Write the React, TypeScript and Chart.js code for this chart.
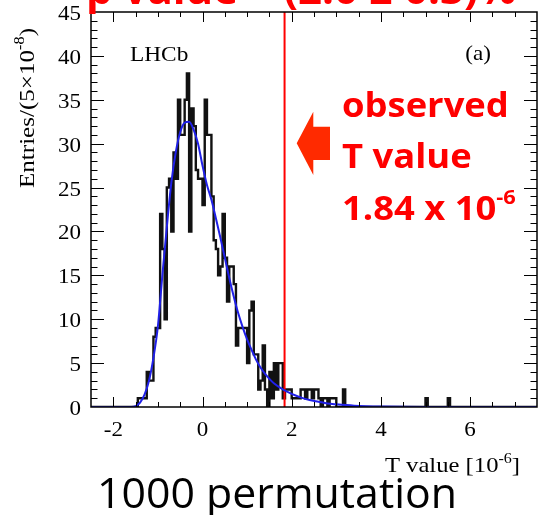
import { useEffect, useRef } from 'react';
import { Chart, registerables } from 'chart.js';

Chart.register(...registerables);

// ---------------- data ----------------
const xMin = -2.5;
const xMax = 7.5;
const yMin = 0;
const yMax = 45;
const binWidth = 0.05; // 5x10^-8 in units of 10^-6
// 200 bins from -2.5 to 7.5, one row per unit of T
const histCounts: number[] = [
  // -2.50 .. -1.55
  0, 0, 0, 0, 0, 0, 0, 0, 0, 0, 0, 0, 0, 0, 0, 0, 0, 0, 0, 0,
  // -1.50 .. -0.55
  0, 1, 1, 1, 1, 4, 3, 3, 8, 9, 9, 22, 18, 10, 25, 26, 20, 29, 26, 35,
  // -0.50 .. 0.45
  31, 31, 35, 38, 20, 34, 32, 27, 26, 26, 23, 35, 31, 31, 24, 19, 18, 15, 16, 22,
  // 0.50 .. 1.45
  17, 12, 16, 16, 14, 7, 9, 9, 9, 9, 5, 11, 12, 6, 6, 2, 3, 7, 2, 0,
  // 1.50 .. 2.45
  4, 1, 5, 2, 5, 5, 1, 2, 2, 2, 1, 1, 1, 1, 2, 2, 1, 2, 2, 1,
  // 2.50 .. 3.45
  2, 2, 1, 0, 1, 1, 0, 1, 1, 1, 0, 0, 0, 2, 0, 0, 0, 0, 0, 0,
  // 3.50 .. 4.45
  0, 0, 0, 0, 0, 0, 0, 0, 0, 0, 0, 0, 0, 0, 0, 0, 0, 0, 0, 0,
  // 4.50 .. 5.45
  0, 0, 0, 0, 0, 0, 0, 0, 0, 0, 1, 0, 0, 0, 0, 0, 0, 0, 0, 0,
  // 5.50 .. 6.45
  1, 0, 0, 0, 0, 0, 0, 0, 0, 0, 0, 0, 0, 0, 0, 0, 0, 0, 0, 0,
  // 6.50 .. 7.45
  0, 0, 0, 0, 0, 0, 0, 0, 0, 0, 0, 0, 0, 0, 0, 0, 0, 0, 0, 0,
];

// fitted curve
const fitX: number[] = [
  -2.5, -1.6, -1.5, -1.4, -1.3, -1.2, -1.1, -1.0, -0.9, -0.8, -0.7, -0.6, -0.5, -0.4, -0.3, -0.2, -0.1,
  0.0, 0.1, 0.2, 0.3, 0.4, 0.5, 0.6, 0.7, 0.8, 0.9, 1.0, 1.1, 1.2, 1.3, 1.4, 1.5, 1.6, 1.8, 2.0, 2.2,
  2.4, 2.6, 2.8, 3.0, 3.4, 4.0, 5.0, 7.5,
];
const fitY: number[] = [
  0, 0, 0.1, 0.5, 1.4, 3, 5.6, 9.2, 15, 20.5, 25.5, 29, 31.3, 32.4, 32.5, 31.6, 30,
  27.5, 25.3, 23.6, 21.5, 19.3, 17, 14.7, 12.6, 10.7, 9.1, 7.7, 6.5, 5.4, 4.5, 3.8, 3.2, 2.7, 2.0, 1.5, 1.1,
  0.8, 0.6, 0.4, 0.3, 0.15, 0.05, 0, 0,
];

const observedT = 1.84;
const xTickValues: number[] = [-2, 0, 2, 4, 6];
const yTickValues: number[] = [0, 5, 10, 15, 20, 25, 30, 35, 40, 45];

// ---------------- helpers ----------------
type Part = { text: string; sup?: boolean };

function drawRich(
  ctx: CanvasRenderingContext2D,
  parts: Part[],
  x: number,
  y: number,
  o: { size: number; family: string; weight?: string; color: string; align?: 'left' | 'right' | 'center'; stretch?: number; rotate?: number; supScale?: number; supRise?: number }
) {
  const weight = o.weight || 'normal';
  const supScale = o.supScale ?? 0.65;
  const supRise = o.supRise ?? 0.42;
  ctx.save();
  ctx.translate(x, y);
  if (o.rotate) ctx.rotate(o.rotate);
  ctx.scale(o.stretch ?? 1, 1);
  ctx.fillStyle = o.color;
  ctx.textBaseline = 'alphabetic';
  ctx.textAlign = 'left';
  let total = 0;
  const m = parts.map((p) => {
    const size = p.sup ? o.size * supScale : o.size;
    ctx.font = `${weight} ${size}px ${o.family}`;
    const w = ctx.measureText(p.text).width;
    total += w;
    return { p, size, w };
  });
  let cx = o.align === 'right' ? -total : o.align === 'center' ? -total / 2 : 0;
  for (const it of m) {
    ctx.font = `${weight} ${it.size}px ${o.family}`;
    ctx.fillText(it.p.text, cx, it.p.sup ? -o.size * supRise : 0);
    cx += it.w;
  }
  ctx.restore();
}

const SERIF = '"Liberation Serif"';
const SANS = '"Open Sans"';

const framePlugin = {
  id: 'rootFrame',
  afterDatasetsDraw(chart: any) {
    const ctx: CanvasRenderingContext2D = chart.ctx;
    const { left, right, top, bottom } = chart.chartArea;
    const xs = chart.scales.x;
    const ys = chart.scales.y;
    ctx.save();
    ctx.strokeStyle = '#000';
    ctx.lineWidth = 1;
    // x ticks every 0.5, major every 2
    for (let v = xMin + 0.5; v < xMax - 1e-9; v += 0.5) {
      const px = Math.round(xs.getPixelForValue(v)) + 0.5;
      const major = Math.abs(v / 2 - Math.round(v / 2)) < 1e-9;
      const len = major ? 10 : 5;
      ctx.beginPath();
      ctx.moveTo(px, bottom);
      ctx.lineTo(px, bottom - len);
      ctx.moveTo(px, top);
      ctx.lineTo(px, top + len);
      ctx.stroke();
    }
    // y ticks every 1, major every 5
    for (let v = yMin + 1; v < yMax; v += 1) {
      const py = Math.round(ys.getPixelForValue(v)) + 0.5;
      const len = v % 5 === 0 ? 13 : 6.5;
      ctx.beginPath();
      ctx.moveTo(left, py);
      ctx.lineTo(left + len, py);
      ctx.moveTo(right, py);
      ctx.lineTo(right - len, py);
      ctx.stroke();
    }
    ctx.lineWidth = 1.5;
    ctx.strokeRect(left, top, right - left, bottom - top);
    ctx.restore();

    // tick labels (Times-like, slightly wide as in the slide)
    for (const v of xTickValues) {
      drawRich(ctx, [{ text: String(v) }], xs.getPixelForValue(v), 436, {
        size: 20, family: SERIF, color: '#000', align: 'center', stretch: 1.15,
      });
    }
    for (const v of yTickValues) {
      drawRich(ctx, [{ text: String(v) }], 81, ys.getPixelForValue(v) + 8, {
        size: 20, family: SERIF, color: '#000', align: 'right', stretch: 1.15,
      });
    }
  },
  afterDraw(chart: any) {
    const ctx: CanvasRenderingContext2D = chart.ctx;
    // cut-off title at the top of the slide
    drawRich(ctx, [{ text: 'p value = (2.0 ± 0.3)%' }], 86, 4, {
      size: 42, family: SANS, weight: 'bold', color: '#ff0000',
    });
    // axis titles
    drawRich(ctx, [{ text: 'Entries/(5×10' }, { text: '-8', sup: true }, { text: ')' }], 33.5, 28, {
      size: 22, family: SERIF, color: '#000', align: 'right', stretch: 1.14, rotate: -Math.PI / 2,
    });
    drawRich(ctx, [{ text: 'T value [10' }, { text: '-6', sup: true }, { text: ']' }], 520, 472, {
      size: 22, family: SERIF, color: '#000', align: 'right', stretch: 1.12,
    });
    // labels inside the frame
    drawRich(ctx, [{ text: 'LHCb' }], 130, 60.5, { size: 22, family: SERIF, color: '#000', stretch: 1.06 });
    drawRich(ctx, [{ text: '(a)' }], 491, 60, { size: 22, family: SERIF, color: '#000', align: 'right', stretch: 1.05 });

    // arrow
    ctx.save();
    ctx.fillStyle = '#ff2a00';
    ctx.beginPath();
    ctx.moveTo(296.7, 143.3);
    ctx.lineTo(313.3, 111.7);
    ctx.lineTo(313.3, 126.7);
    ctx.lineTo(330, 126.7);
    ctx.lineTo(330, 160);
    ctx.lineTo(313.3, 160);
    ctx.lineTo(313.3, 175);
    ctx.closePath();
    ctx.fill();
    ctx.restore();

    const red = { size: 34, family: SANS, weight: 'bold', color: '#ff0000', stretch: 1.07 };
    drawRich(ctx, [{ text: 'observed' }], 342, 116.5, red);
    drawRich(ctx, [{ text: 'T value' }], 342, 167.5, red);
    drawRich(ctx, [{ text: '1.84 x 10' }, { text: '-6', sup: true }], 342, 219.5, { ...red, supScale: 0.6, supRise: 0.45 });

    drawRich(ctx, [{ text: '1000 permutation' }], 97, 508, { size: 42, family: SANS, color: '#000', stretch: 1.02 });
  },
};

export default function App() {
  const ref = useRef<HTMLCanvasElement | null>(null);
  useEffect(() => {
    if (!ref.current) return;
    const histPoints = histCounts.map((c, i) => ({ x: xMin + i * binWidth, y: c }));
    histPoints.push({ x: xMax, y: histCounts[histCounts.length - 1] });
    const fitPoints = fitX.map((x, i) => ({ x, y: fitY[i] }));

    const chart = new Chart(ref.current, {
      type: 'line',
      data: {
        datasets: [
          {
            label: 'histogram',
            data: histPoints,
            stepped: true,
            borderColor: '#111111',
            borderWidth: 2.4,
            pointRadius: 0,
            fill: false,
            order: 3,
          },
          {
            label: 'observed',
            data: [
              { x: observedT, y: yMin },
              { x: observedT, y: yMax },
            ],
            borderColor: '#ff0000',
            borderWidth: 2,
            pointRadius: 0,
            fill: false,
            order: 2,
          },
          {
            label: 'fit',
            data: fitPoints,
            borderColor: '#2020e8',
            borderWidth: 2,
            pointRadius: 0,
            fill: false,
            cubicInterpolationMode: 'monotone',
            order: 1,
          },
        ],
      } as any,
      options: {
        animation: false,
        responsive: false,
        devicePixelRatio: 1,
        layout: { padding: { top: 12, right: 5, left: 0, bottom: 0 } },
        plugins: { legend: { display: false }, tooltip: { enabled: false } },
        scales: {
          x: {
            type: 'linear',
            min: xMin,
            max: xMax,
            grid: { display: false, drawTicks: false },
            border: { display: false },
            ticks: { display: false },
            afterFit: (scale: any) => {
              scale.height = 108;
            },
          },
          y: {
            type: 'linear',
            min: yMin,
            max: yMax,
            grid: { display: false, drawTicks: false },
            border: { display: false },
            ticks: { display: false },
            afterFit: (scale: any) => {
              scale.width = 91;
            },
          },
        },
      } as any,
      plugins: [framePlugin],
    });
    return () => chart.destroy();
  }, []);

  return (
    <div style={{ position: 'fixed', left: 0, top: 0, width: 542, height: 515, background: '#fff' }}>
      <canvas ref={ref} width={542} height={515} style={{ display: 'block', width: 542, height: 515 }} />
    </div>
  );
}
